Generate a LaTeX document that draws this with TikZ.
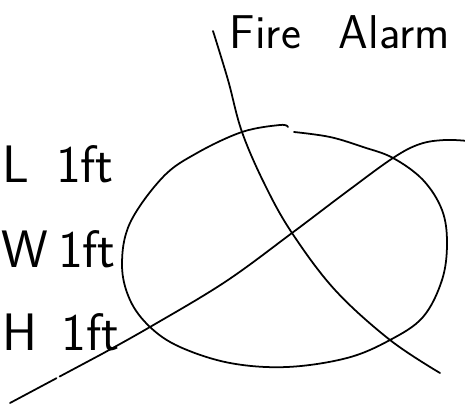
\documentclass[tikz,border=0pt]{standalone}
\begin{document}
\begin{tikzpicture}[x=0.02cm, y=-0.02cm, line width=1pt, line cap=round, line join=round,
  sketch/.style={font=\sffamily\fontsize{27}{29}\selectfont, inner sep=0pt, anchor=base west},
  dimlabel/.style={font=\sffamily\fontsize{30}{32}\selectfont, inner sep=0pt, anchor=base west}]
\useasboundingbox (0,0) rectangle (465,404);
\node[sketch] (title) at (229,49) {Fire\hspace{0.8em}Alarm};
\node[dimlabel] (len) at (2,183) {L\hspace{0.5em}1ft};
\node[dimlabel] (wid) at (1,268) {W\hspace{0.18em}1ft};
\node[dimlabel] (hgt) at (2,350) {H\hspace{0.45em}1ft};
% the box seen from above
\draw plot[smooth, tension=0.6] coordinates {(294,132) (330,137) (363,147) (393,158) (423,180)
  (442,210) (447,243) (442,280) (423,317) (390,340) (347,358) (287,367) (230,363) (180,347)
  (150,327) (130,300) (122,265) (130,223) (163,177) (197,153) (242,132) (280,125) (288,127)};
% cross lines
\draw plot[smooth, tension=0.6] coordinates {(213,31) (228,80) (242,132) (265,185) (292,233)
  (335,290) (390,340) (440,373)};
\draw[dash pattern=on 30pt off 2pt] (10,403) -- (100,355);
\draw plot[smooth, tension=0.6] coordinates {(100,355) (150,327) (225,282) (292,233) (345,193)
  (393,158) (420,144) (445,140) (468,141)};
\end{tikzpicture}
\end{document}
